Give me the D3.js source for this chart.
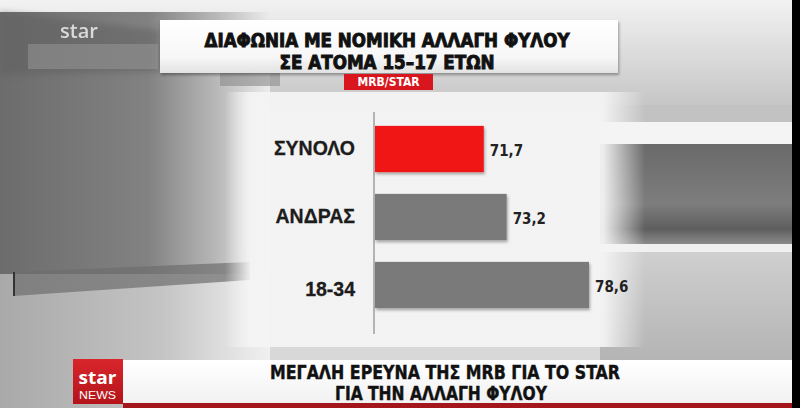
<!DOCTYPE html>
<html><head><meta charset="utf-8">
<script src="https://cdn.jsdelivr.net/npm/d3@7"></script>
<style>html,body{margin:0;padding:0;background:#000;overflow:hidden}svg{display:block}</style>
</head><body>
<script>
// ---- data ----
const titleLines = ["ΔΙΑΦΩΝΙΑ ΜΕ ΝΟΜΙΚΗ ΑΛΛΑΓΗ ΦΥΛΟΥ", "ΣΕ ΑΤΟΜΑ 15–17 ΕΤΩΝ"];
const sourceLabel = "MRB/STAR";
const categories = ["ΣΥΝΟΛΟ", "ΑΝΔΡΑΣ", "18-34"];
const values = [71.7, 73.2, 78.6];
const valueLabels = ["71,7", "73,2", "78,6"];
const footerLines = ["ΜΕΓΑΛΗ ΕΡΕΥΝΑ ΤΗΣ MRB ΓΙΑ ΤΟ STAR", "ΓΙΑ ΤΗΝ ΑΛΛΑΓΗ ΦΥΛΟΥ"];

const W = 800, H = 408;
const svg = d3.select("body").append("svg").attr("width", W).attr("height", H);
const defs = svg.append("defs");
function lg(id, x1, y1, x2, y2, stops) {
  const g = defs.append("linearGradient").attr("id", id)
    .attr("x1", x1).attr("y1", y1).attr("x2", x2).attr("y2", y2);
  stops.forEach(s => g.append("stop").attr("offset", s[0]).attr("stop-color", s[1]).attr("stop-opacity", s[2] == null ? 1 : s[2]));
}
lg("gTop", 0, 0, 0, 1, [[0, "#f2f2f2"], [1, "#c4c4c4"]]);
lg("gLeft", 0, 0, 1, 0, [[0, "#6c6c6c"], [0.55, "#828282"], [0.8, "#b8b8b8"], [1, "#ececec"]]);
lg("gLeftLow", 0, 0, 1, 0, [[0, "#a9a9a9"], [0.6, "#c4c4c4"], [0.9, "#e6e6e6"], [1, "#f0f0f0"]]);
lg("gPanelH", 0, 0, 1, 0, [[0, "#f4f4f4", 0], [0.06, "#f4f4f4", 0.95], [0.9, "#f4f4f4", 0.95], [1, "#f4f4f4", 0]]);
lg("gRightDarkV", 0, 0, 0, 1, [[0, "#6a6a6a"], [0.6, "#7d7d7d"], [0.85, "#5e5e5e"], [1, "#8a8a8a"]]);
lg("gRightLow", 0, 0, 0, 1, [[0, "#cfcfcf"], [1, "#b4b4b4"]]);
lg("gTitleBox", 0, 0, 0, 1, [[0, "#ffffff"], [0.7, "#f7f7f7"], [1, "#e2e2e2"]]);
lg("gLogo", 0, 0, 0, 1, [[0, "#d8262c"], [1, "#b3141a"]]);
lg("gBanner", 0, 0, 0, 1, [[0, "#ffffff"], [1, "#f1f1f1"]]);
const sh = defs.append("filter").attr("id", "shadow").attr("x", "-5%").attr("y", "-10%").attr("width", "115%").attr("height", "140%");
sh.append("feDropShadow").attr("dx", 1).attr("dy", 2).attr("stdDeviation", 1.5).attr("flood-color", "#000").attr("flood-opacity", 0.35);
const blur = defs.append("filter").attr("id", "blur");
blur.append("feGaussianBlur").attr("stdDeviation", 3);

// ---- background ----
const bg = svg.append("g");
bg.append("rect").attr("width", W).attr("height", H).attr("fill", "#d8d8d8");
bg.append("rect").attr("x", 0).attr("y", 0).attr("width", W).attr("height", 110).attr("fill", "url(#gTop)");
bg.append("rect").attr("x", 0).attr("y", 12).attr("width", 270).attr("height", 262).attr("fill", "url(#gLeft)");
bg.append("path").attr("d", "M0,12 L160,30 L160,72 L0,75 Z").attr("fill", "#5f5f5f").attr("opacity", 0.5).attr("filter", "url(#blur)");
bg.append("rect").attr("x", 28).attr("y", 44).attr("width", 130).attr("height", 25).attr("fill", "#9a9a9a").attr("opacity", 0.5);
bg.append("rect").attr("x", 0).attr("y", 274).attr("width", 270).attr("height", 134).attr("fill", "url(#gLeftLow)");
bg.append("path").attr("d", "M13,272 L250,262 L250,280 L13,296 Z").attr("fill", "#6e6e6e").attr("opacity", 0.7);
bg.append("rect").attr("x", 13).attr("y", 272).attr("width", 2).attr("height", 24).attr("fill", "#333");
bg.append("rect").attr("x", 600).attr("y", 105).attr("width", 192).attr("height", 20).attr("fill", "#c2c2c2");
bg.append("rect").attr("x", 600).attr("y", 122).attr("width", 192).attr("height", 22).attr("fill", "#f4f4f4");
bg.append("rect").attr("x", 600).attr("y", 144).attr("width", 192).attr("height", 100).attr("fill", "url(#gRightDarkV)");
bg.append("rect").attr("x", 600).attr("y", 244).attr("width", 192).attr("height", 8).attr("fill", "#f0f0f0");
bg.append("rect").attr("x", 600).attr("y", 252).attr("width", 192).attr("height", 108).attr("fill", "url(#gRightLow)");
bg.append("rect").attr("x", 225).attr("y", 92).attr("width", 420).attr("height", 255).attr("fill", "url(#gPanelH)");
bg.append("rect").attr("x", 220).attr("y", 72).attr("width", 60).attr("height", 14).attr("fill", "#8a8a8a").attr("opacity", 0.6);
bg.append("text").attr("x", 60).attr("y", 38).attr("font-family", "'Open Sans', 'Liberation Sans', sans-serif")
  .attr("font-weight", "600").attr("font-size", 20).attr("fill", "#fff").attr("opacity", 0.75).text("star");

// ---- title box ----
svg.append("rect").attr("x", 160).attr("y", 20).attr("width", 458).attr("height", 53)
  .attr("fill", "url(#gTitleBox)").attr("filter", "url(#shadow)");
const condensed = "'Liberation Sans Narrow', 'DejaVu Sans Condensed', 'Roboto Condensed', sans-serif";
const title = svg.append("text").attr("text-anchor", "middle")
  .attr("font-family", condensed).attr("font-weight", "bold").attr("font-size", 19.5).attr("fill", "#111")
  .attr("stroke", "#111").attr("stroke-width", 0.9);
title.append("tspan").attr("x", 387).attr("y", 47)
  .attr("textLength", 365).attr("lengthAdjust", "spacingAndGlyphs").text(titleLines[0]);
title.append("tspan").attr("x", 387).attr("y", 69)
  .attr("textLength", 215).attr("lengthAdjust", "spacingAndGlyphs").text(titleLines[1]);

svg.append("rect").attr("x", 344).attr("y", 74).attr("width", 89).attr("height", 16).attr("fill", "#d9161d");
svg.append("text").attr("x", 388.5).attr("y", 86).attr("text-anchor", "middle")
  .attr("font-family", condensed).attr("font-weight", "bold").attr("font-size", 12).attr("fill", "#fff")
  .text(sourceLabel);

// ---- chart ----
const x = d3.scaleLinear().domain([64.5, 78.6]).range([374, 589]);
const y = d3.scaleBand().domain(categories).range([115, 319]).paddingInner(0.32).paddingOuter(0.16);
const rows = categories.map((c, i) => ({ c, v: values[i], lab: valueLabels[i], i }));

svg.append("line").attr("x1", x.range()[0]).attr("x2", x.range()[0]).attr("y1", 112).attr("y2", 334)
  .attr("stroke", "#8a8a8a").attr("stroke-width", 1.2);

svg.append("g").selectAll("rect").data(rows).join("rect")
  .attr("x", x.range()[0] + 1).attr("y", d => y(d.c))
  .attr("width", d => x(d.v) - x.range()[0] - 1).attr("height", y.bandwidth())
  .attr("fill", d => d.i === 0 ? "#f01616" : "#7a7a7a")
  .attr("filter", "url(#shadow)");

svg.append("g").selectAll("text").data(rows).join("text")
  .attr("x", 355).attr("y", d => y(d.c) + y.bandwidth() / 2 + (d.i === 2 ? 4 : -1))
  .attr("dy", "0.36em").attr("text-anchor", "end")
  .attr("font-family", "'Liberation Sans', Arial, sans-serif").attr("font-weight", "bold")
  .attr("font-size", 19.5).attr("fill", "#1c1c1c").attr("stroke", "#1c1c1c").attr("stroke-width", 0.3)
  .text(d => d.c);

svg.append("g").selectAll("text").data(rows).join("text")
  .attr("x", d => x(d.v) + 6).attr("y", d => y(d.c) + y.bandwidth() / 2 + 2)
  .attr("dy", "0.36em")
  .attr("font-family", condensed).attr("font-weight", "bold")
  .attr("font-size", 15).attr("fill", "#222").text(d => d.lab);

// ---- footer ----
svg.append("rect").attr("x", 123).attr("y", 360).attr("width", 669).attr("height", 44).attr("fill", "url(#gBanner)");
svg.append("rect").attr("x", 123).attr("y", 403).attr("width", 669).attr("height", 5).attr("fill", "#a3161b");
svg.append("rect").attr("x", 73).attr("y", 359).attr("width", 50).attr("height", 45).attr("fill", "url(#gLogo)");
svg.append("text").attr("x", 97.5).attr("y", 384).attr("text-anchor", "middle")
  .attr("font-family", "'Open Sans', 'Liberation Sans', sans-serif").attr("font-weight", "bold").attr("font-size", 17)
  .attr("fill", "#fff").attr("textLength", 38).attr("lengthAdjust", "spacingAndGlyphs").text("star");
svg.append("text").attr("x", 97.5).attr("y", 399).attr("text-anchor", "middle")
  .attr("font-family", "'Liberation Sans', sans-serif").attr("font-size", 11)
  .attr("fill", "#fff").attr("textLength", 37).attr("lengthAdjust", "spacingAndGlyphs").text("NEWS");
const footer = svg.append("text").attr("text-anchor", "middle")
  .attr("font-family", condensed).attr("font-weight", "bold").attr("font-size", 19).attr("fill", "#111")
  .attr("stroke", "#111").attr("stroke-width", 0.4);
footer.append("tspan").attr("x", 445).attr("y", 378.5)
  .attr("textLength", 350).attr("lengthAdjust", "spacingAndGlyphs").text(footerLines[0]);
footer.append("tspan").attr("x", 441).attr("y", 399.5)
  .attr("textLength", 212).attr("lengthAdjust", "spacingAndGlyphs").text(footerLines[1]);

svg.append("rect").attr("x", 792).attr("y", 0).attr("width", 8).attr("height", H).attr("fill", "#000");
</script>
</body></html>
